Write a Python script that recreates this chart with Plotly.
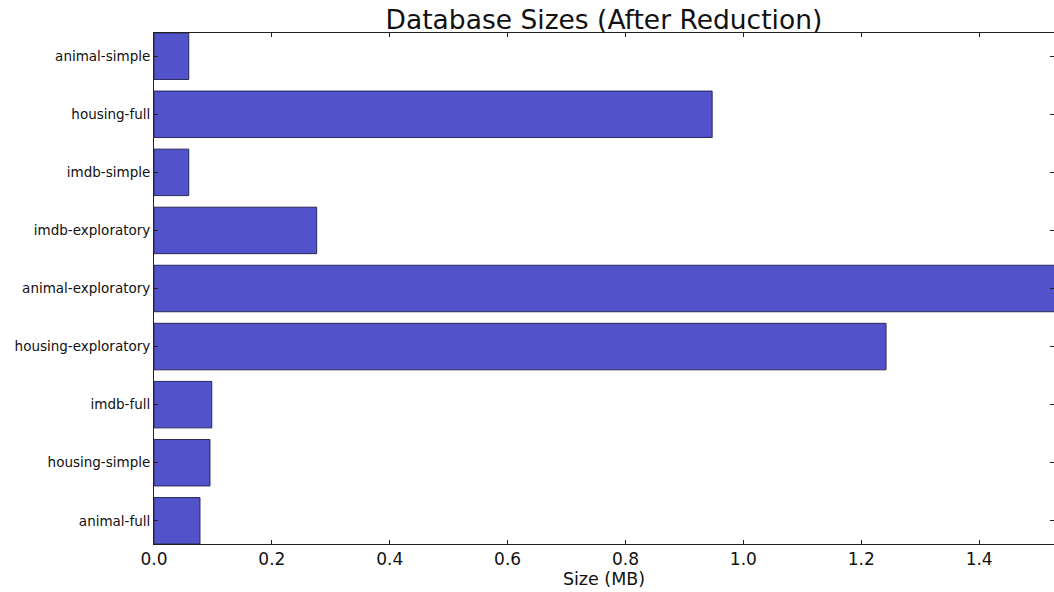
import plotly.graph_objects as go

categories = ["animal-full", "housing-simple", "imdb-full", "housing-exploratory",
              "animal-exploratory", "imdb-exploratory", "imdb-simple", "housing-full",
              "animal-simple"]
sizes_mb = [0.078, 0.095, 0.098, 1.242, 1.56, 0.276, 0.059, 0.947, 0.059]
x_ticks = [0.0, 0.2, 0.4, 0.6, 0.8, 1.0, 1.2, 1.4]
x_tick_labels = ["0.0", "0.2", "0.4", "0.6", "0.8", "1.0", "1.2", "1.4"]

fig = go.Figure(go.Bar(
    y=categories,
    x=sizes_mb,
    orientation="h",
    width=0.8,
    marker=dict(color="rgb(82,82,202)", line=dict(color="rgb(40,40,90)", width=1)),
))

font = "DejaVu Sans"
fig.update_layout(
    width=1054, height=592,
    margin=dict(l=154, r=0, t=33, b=48),
    plot_bgcolor="white", paper_bgcolor="white",
    showlegend=False,
    title=dict(text="Database Sizes (After Reduction)", x=0.573, xanchor="center",
               y=0.966, yanchor="middle", font=dict(family=font, size=26.5, color="#111")),
    bargap=0.2,
)
fig.update_xaxes(
    range=[0, 1.527], tickvals=x_ticks, ticktext=x_tick_labels,
    showline=True, linecolor="#222", linewidth=1, mirror="ticks",
    ticks="inside", ticklen=4, tickcolor="#222",
    showgrid=False, zeroline=False,
    tickfont=dict(family=font, size=17, color="#111"),
    title=dict(text="Size (MB)", font=dict(family=font, size=17.5, color="#111"), standoff=2),
)
fig.update_yaxes(
    type="category", categoryorder="array", categoryarray=categories,
    range=[-0.4, 8.4],
    showline=True, linecolor="#222", linewidth=1, mirror="ticks",
    ticks="inside", ticklen=4, tickcolor="#222",
    showgrid=False, zeroline=False,
    tickfont=dict(family=font, size=13.5, color="#111"),
)
fig.write_html("out.html")
